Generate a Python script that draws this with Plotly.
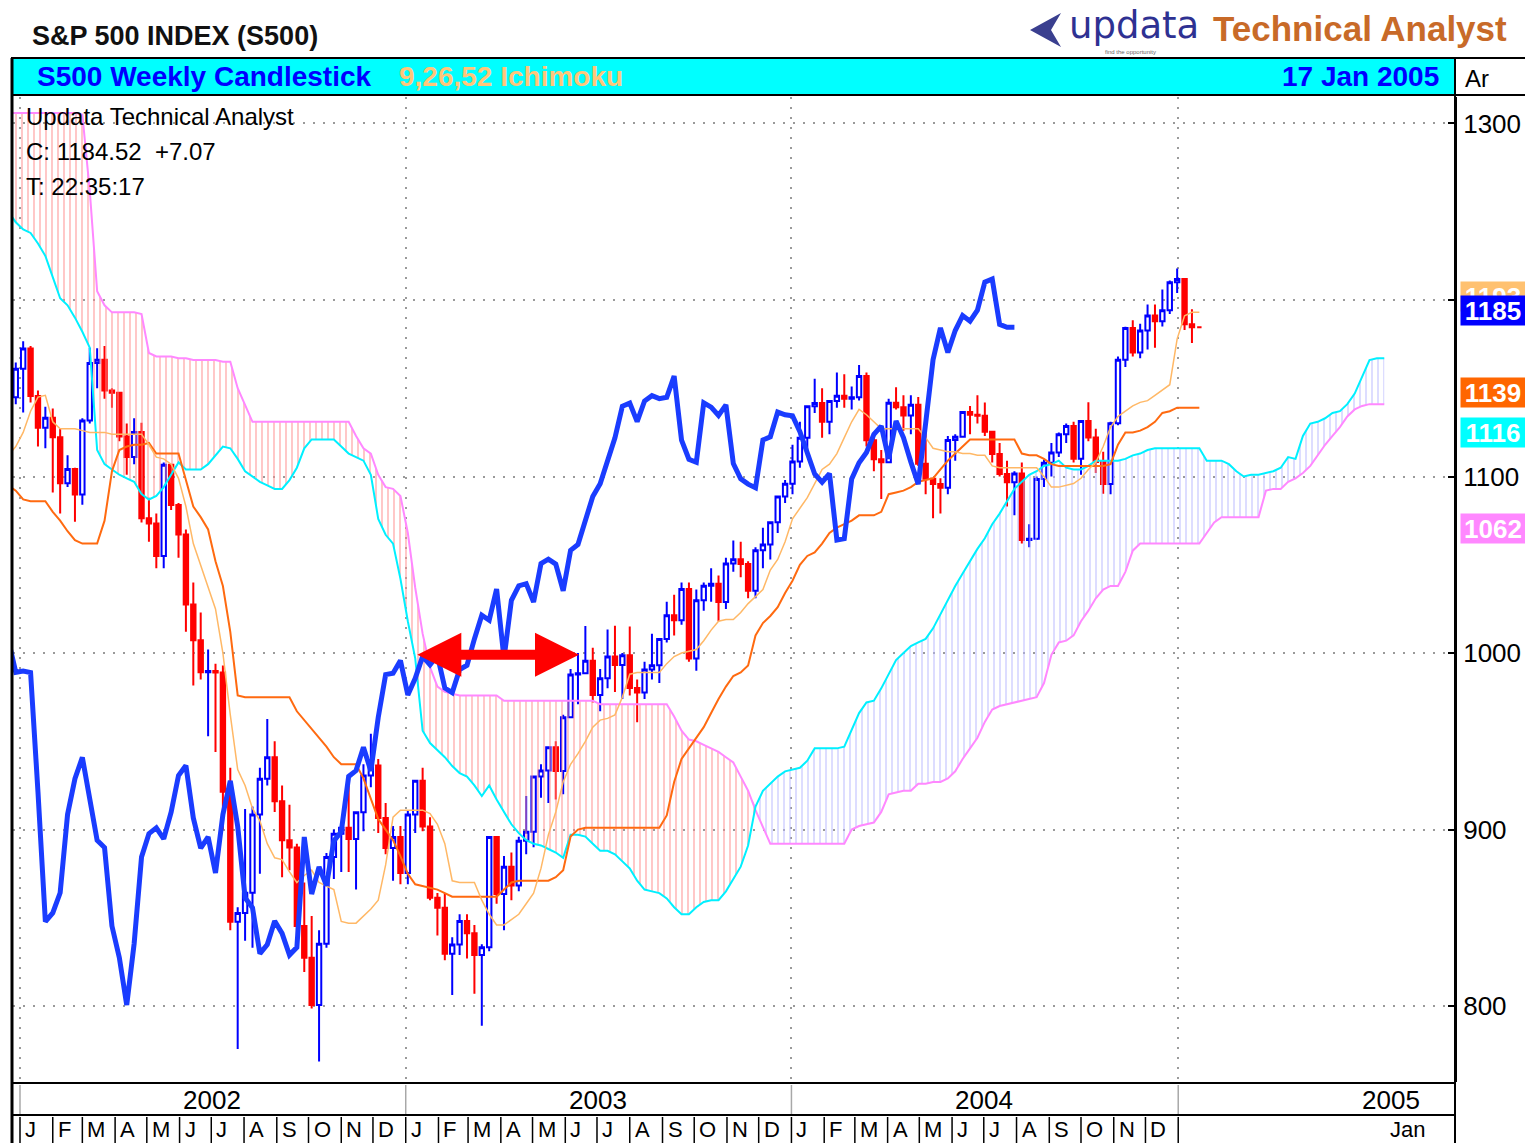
import numpy as np
import pandas as pd
import plotly.graph_objects as go

# ---------------- data ----------------
FIRST_WEEK = "2001-12-21"          # weekly grid (Fridays); candles start one week later
N_WEEKS_GRID = 187                  # grid incl. 25-week forward cloud
DISPLACEMENT_WEEKS = 25

OPEN = [1144.9, 1161.0, 1172.5, 1145.6, 1127.6, 1133.3, 1122.2, 1096.2, 1104.2, 1089.8,
        1131.8, 1164.3, 1166.2, 1148.7, 1147.4, 1122.7, 1111.0, 1125.2, 1076.3, 1073.4,
        1055.0, 1106.6, 1083.8, 1067.1, 1027.5, 1007.3, 989.1, 989.8, 989.0, 921.4,
        847.8, 852.8, 864.2, 908.6, 928.8, 940.9, 916.1, 893.9, 889.8, 845.4,
        827.4, 800.6, 835.3, 884.4, 897.7, 901.0, 894.7, 909.8, 930.6, 936.3,
        906.6, 889.5, 895.8, 875.4, 908.6, 927.6, 901.8, 861.4, 855.7, 829.7,
        834.9, 848.2, 841.2, 828.9, 833.3, 895.8, 863.5, 878.9, 868.3, 893.6,
        898.8, 930.1, 933.4, 946.7, 933.2, 963.6, 987.8, 988.6, 995.7, 976.2,
        985.7, 998.1, 993.3, 998.7, 980.2, 977.6, 990.7, 993.1, 1008.0, 1021.4,
        1018.6, 1036.3, 996.9, 1029.9, 1038.1, 1039.3, 1028.9, 1050.7, 1053.2, 1050.4,
        1035.3, 1058.2, 1061.5, 1074.1, 1088.7, 1095.9, 1108.5, 1121.9, 1139.8, 1141.6,
        1131.1, 1142.8, 1145.8, 1144.1, 1144.9, 1156.9, 1120.6, 1109.8, 1108.1, 1141.8,
        1139.3, 1134.6, 1140.6, 1107.3, 1098.7, 1095.7, 1093.6, 1120.7, 1122.5, 1136.5,
        1135.0, 1134.4, 1125.4, 1112.8, 1101.4, 1096.8, 1101.7, 1064.0, 1064.8, 1098.6,
        1107.8, 1113.6, 1123.9, 1128.6, 1110.1, 1131.5, 1122.1, 1108.2, 1095.7, 1130.2,
        1166.2, 1184.2, 1170.3, 1182.7, 1191.2, 1188.0, 1194.2, 1210.1, 1211.9, 1186.2,
        1184.52]
HIGH = [1164.6, 1176.6, 1174.0, 1148.8, 1139.5, 1138.6, 1127.0, 1112.0, 1105.0, 1133.0,
        1173.0, 1172.7, 1173.9, 1150.0, 1147.8, 1130.0, 1133.0, 1130.5, 1088.0, 1079.0,
        1108.0, 1106.6, 1085.0, 1070.0, 1040.0, 1023.0, 1002.0, 994.0, 993.0, 935.0,
        856.0, 911.6, 913.0, 935.0, 962.7, 950.0, 925.0, 914.0, 892.0, 870.0,
        851.0, 843.0, 886.7, 900.0, 903.0, 925.0, 910.0, 937.0, 954.3, 940.0,
        915.0, 902.0, 902.0, 911.0, 928.0, 935.0, 907.0, 864.0, 864.0, 839.0,
        852.0, 852.0, 846.0, 835.0, 895.8, 895.8, 885.0, 887.0, 896.0, 919.0,
        930.1, 937.0, 947.0, 950.0, 965.0, 991.0, 1000.0, 1015.3, 1003.0, 991.0,
        1013.4, 1015.4, 1000.0, 1015.0, 985.0, 995.0, 1011.0, 1008.0, 1029.0, 1033.0,
        1040.0, 1040.0, 1036.0, 1040.0, 1048.0, 1044.0, 1054.0, 1063.7, 1063.0, 1052.0,
        1060.0, 1071.0, 1074.0, 1089.0, 1098.0, 1118.0, 1131.0, 1139.8, 1155.4, 1150.0,
        1142.8, 1158.9, 1158.0, 1151.0, 1163.2, 1159.0, 1125.0, 1115.0, 1144.0, 1150.6,
        1146.0, 1146.0, 1145.0, 1127.0, 1099.0, 1099.0, 1123.0, 1124.0, 1137.0, 1140.0,
        1146.0, 1142.0, 1125.4, 1119.0, 1109.0, 1103.0, 1108.0, 1073.0, 1100.0, 1109.7,
        1119.0, 1125.0, 1130.0, 1131.0, 1131.6, 1142.1, 1127.0, 1114.0, 1131.0, 1168.0,
        1184.8, 1188.5, 1186.6, 1197.5, 1197.5, 1206.0, 1211.0, 1217.9, 1211.9, 1194.8,
        1184.52]
LOW = [1141.0, 1136.2, 1142.0, 1117.0, 1116.0, 1091.0, 1079.0, 1094.0, 1074.4, 1084.0,
       1130.0, 1150.0, 1144.0, 1139.0, 1120.0, 1101.0, 1107.0, 1073.9, 1063.0, 1048.0,
       1048.0, 1081.0, 1054.0, 1012.0, 981.6, 985.0, 952.9, 944.0, 900.0, 843.0,
       775.7, 837.0, 833.0, 875.0, 925.0, 910.0, 873.0, 877.0, 840.0, 819.3,
       798.6, 768.6, 833.0, 872.0, 876.0, 876.0, 866.0, 899.0, 924.0, 898.0,
       886.0, 871.0, 869.0, 869.0, 898.0, 899.0, 860.0, 840.0, 826.0, 806.3,
       829.0, 827.0, 807.0, 788.9, 831.0, 858.0, 843.0, 860.0, 865.0, 886.0,
       890.0, 918.0, 915.0, 917.0, 920.0, 963.0, 971.0, 988.0, 972.0, 967.0,
       980.0, 978.0, 974.0, 976.0, 960.8, 974.0, 985.0, 983.0, 1006.0, 1010.0,
       1016.0, 995.0, 990.0, 1024.0, 1029.0, 1018.0, 1025.0, 1046.0, 1043.0, 1031.0,
       1031.0, 1048.0, 1053.0, 1068.0, 1085.0, 1090.0, 1105.0, 1115.0, 1136.0, 1122.0,
       1124.0, 1139.0, 1139.0, 1138.0, 1143.0, 1117.0, 1103.0, 1087.2, 1108.0, 1138.0,
       1126.0, 1124.0, 1106.0, 1090.0, 1076.3, 1079.0, 1090.0, 1109.0, 1122.0, 1124.0,
       1130.0, 1123.0, 1108.0, 1100.0, 1083.0, 1078.0, 1062.0, 1060.0, 1064.0, 1094.0,
       1100.0, 1111.0, 1119.0, 1108.0, 1101.0, 1120.0, 1102.0, 1090.2, 1090.0, 1129.0,
       1162.0, 1168.0, 1167.0, 1172.0, 1173.0, 1185.0, 1192.0, 1204.0, 1183.0, 1175.6,
       1184.52]
CLOSE = [1161.0, 1172.5, 1145.6, 1127.6, 1133.3, 1122.2, 1096.2, 1104.2, 1089.8, 1131.8,
         1164.3, 1166.2, 1148.7, 1147.4, 1122.7, 1111.0, 1125.2, 1076.3, 1073.4, 1055.0,
         1106.6, 1083.8, 1067.1, 1027.5, 1007.3, 989.1, 989.8, 989.0, 921.4, 847.8,
         852.8, 864.2, 908.6, 928.8, 940.9, 916.1, 893.9, 889.8, 845.4, 827.4,
         800.6, 835.3, 884.4, 897.7, 901.0, 894.7, 909.8, 930.6, 936.3, 906.6,
         889.5, 895.8, 875.4, 908.6, 927.6, 901.8, 861.4, 855.7, 829.7, 834.9,
         848.2, 841.2, 828.9, 833.3, 895.8, 863.5, 878.9, 868.3, 893.6, 898.8,
         930.1, 933.4, 946.7, 933.2, 963.6, 987.8, 988.6, 995.7, 976.2, 985.7,
         998.1, 993.3, 998.7, 980.2, 977.6, 990.7, 993.1, 1008.0, 1021.4, 1018.6,
         1036.3, 996.9, 1029.9, 1038.1, 1039.3, 1028.9, 1050.7, 1053.2, 1050.4, 1035.3,
         1058.2, 1061.5, 1074.1, 1088.7, 1095.9, 1108.5, 1121.9, 1139.8, 1141.6, 1131.1,
         1142.8, 1145.8, 1144.1, 1144.9, 1156.9, 1120.6, 1109.8, 1108.1, 1141.8, 1139.3,
         1134.6, 1140.6, 1107.3, 1098.7, 1095.7, 1093.6, 1120.7, 1122.5, 1136.5, 1135.0,
         1134.4, 1125.4, 1112.8, 1101.4, 1096.8, 1101.7, 1064.0, 1064.8, 1098.6, 1107.8,
         1113.6, 1123.9, 1128.6, 1110.1, 1131.5, 1122.1, 1108.2, 1095.7, 1130.2, 1166.2,
         1184.2, 1170.3, 1182.7, 1191.2, 1188.0, 1194.2, 1210.1, 1211.9, 1186.2, 1184.52,
         1184.52]

# Tenkan (9) and Kijun (26) lines, one value per grid week from FIRST_WEEK (162 values)
TENKAN = [1112, 1117, 1125, 1137, 1145, 1146, 1131, 1127, 1127, 1127,
          1126, 1125, 1125, 1125, 1124, 1124, 1124, 1124, 1124, 1118,
          1111, 1110, 1107, 1099, 1083, 1062, 1050, 1038, 1025, 1000,
          965, 934, 925, 912, 905, 892, 884, 883, 876, 870,
          874, 877, 870, 868, 866, 848, 847, 847, 851, 855,
          860, 880, 907, 911, 911, 911, 911, 909, 903, 892,
          871, 870, 870, 870, 860, 852, 846, 846, 849, 852,
          858, 864, 878, 897, 910, 927, 937, 943, 950, 958,
          962, 963, 965, 975, 988, 989, 989, 989, 989, 994,
          998, 1000, 1001, 1002, 1007, 1013, 1018, 1019, 1019, 1023,
          1028, 1032, 1036, 1047, 1053, 1063, 1076, 1082, 1088, 1096,
          1104, 1107, 1113, 1122, 1131, 1138, 1135, 1131, 1127, 1127,
          1127, 1127, 1127, 1127, 1122, 1116, 1115, 1114, 1114, 1113,
          1113, 1112, 1112, 1106, 1105, 1105, 1105, 1105, 1105, 1105,
          1100, 1094, 1094, 1095, 1096, 1099, 1104, 1108, 1117, 1128,
          1134, 1137, 1140, 1142, 1143, 1146, 1149, 1152, 1178, 1191,
          1193, 1193]
KIJUN = [1095, 1092, 1087, 1086, 1086, 1086, 1080, 1075, 1069, 1064,
         1062, 1062, 1062, 1075, 1103, 1115, 1117, 1118, 1118, 1119,
         1113, 1113, 1113, 1113, 1098, 1083, 1077, 1070, 1052, 1038,
         1012, 976, 975, 975, 975, 975, 975, 975, 975, 967,
         962, 957, 952, 947, 941, 937, 937, 937, 929, 918,
         906, 900, 894, 885, 875, 869, 868, 867, 866, 864,
         862, 862, 862, 862, 862, 862, 862, 866, 870, 871,
         871, 871, 871, 871, 873, 877, 896, 900, 901, 901,
         901, 901, 901, 901, 901, 901, 901, 901, 901, 908,
         927, 940, 946, 952, 958, 966, 974, 981, 987, 989,
         993, 1010, 1017, 1021, 1026, 1034, 1041, 1050, 1055, 1057,
         1062, 1068, 1071, 1073, 1075, 1078, 1078, 1078, 1080, 1090,
         1091, 1092, 1094, 1097, 1098, 1099, 1104, 1109, 1113, 1117,
         1121, 1121, 1121, 1121, 1121, 1121, 1121, 1113, 1112, 1112,
         1110, 1107, 1106, 1106, 1106, 1106, 1106, 1106, 1106, 1107,
         1118, 1125, 1125, 1126, 1128, 1131, 1136, 1137, 1139, 1139,
         1139, 1139]

# Senkou spans as plotted (already displaced forward), 187 grid weeks
SPAN_A = [1250, 1244, 1240, 1238, 1232, 1225, 1213, 1201, 1197, 1190,
          1182, 1173, 1115, 1107, 1104, 1101, 1099, 1097, 1090, 1087,
          1089, 1094, 1101, 1108, 1104, 1104, 1104, 1107, 1112, 1117,
          1116, 1110, 1103, 1100, 1097, 1095, 1093, 1093, 1098, 1105,
          1116, 1121, 1121, 1121, 1121, 1117, 1113, 1111, 1109, 1101,
          1076, 1067, 1062, 1042, 1018, 997, 956, 949, 945, 941,
          936, 932, 930, 925, 919, 925, 917, 910, 903, 898,
          894, 892, 891, 889, 887, 884, 897, 897, 896, 892,
          888, 888, 886, 882, 878, 871, 866, 865, 864, 861,
          856, 852, 852, 856, 859, 860, 860, 865, 872, 879,
          891, 913, 922, 926, 930, 933, 934, 935, 939, 946,
          946, 946, 946, 947, 957, 966, 972, 973, 980, 988,
          996, 1000, 1004, 1006, 1008, 1014, 1022, 1030, 1038, 1045,
          1052, 1059, 1065, 1073, 1079, 1086, 1093, 1097, 1101, 1103,
          1106, 1107, 1109, 1105, 1104, 1104, 1106, 1109, 1109, 1109,
          1109, 1110, 1112, 1113, 1115, 1116, 1116, 1116, 1116, 1116,
          1116, 1116, 1109, 1109, 1109, 1107, 1103, 1100, 1101, 1101,
          1102, 1103, 1105, 1111, 1110, 1123, 1130, 1131, 1133, 1136,
          1137, 1141, 1147, 1157, 1166, 1167, 1167]
SPAN_B = [1306, 1306, 1306, 1306, 1306, 1306, 1306, 1306, 1306, 1306,
          1305, 1262, 1205, 1197, 1193, 1193, 1193, 1193, 1192, 1170,
          1168, 1168, 1168, 1167, 1167, 1166, 1166, 1166, 1166, 1165,
          1165, 1150, 1140, 1131, 1131, 1131, 1131, 1131, 1131, 1131,
          1131, 1131, 1131, 1131, 1131, 1131, 1131, 1123, 1116, 1113,
          1101, 1094, 1093, 1089, 1068, 1037, 1011, 992, 981, 978,
          977, 976, 976, 976, 976, 976, 976, 973, 973, 973,
          973, 973, 973, 973, 973, 973, 973, 973, 973, 973,
          971, 971, 971, 971, 971, 971, 971, 971, 971, 971,
          964, 956, 951, 950, 948, 946, 944, 941, 938, 930,
          922, 911, 901, 892, 892, 892, 892, 892, 892, 892,
          892, 892, 892, 892, 900, 902, 903, 904, 910, 920,
          921, 922, 922, 926, 926, 927, 927, 929, 933, 940,
          946, 952, 961, 968, 970, 971, 972, 973, 974, 975,
          983, 999, 1006, 1007, 1010, 1018, 1024, 1031, 1036, 1038,
          1038, 1046, 1058, 1062, 1062, 1062, 1062, 1062, 1062, 1062,
          1062, 1062, 1068, 1074, 1077, 1077, 1077, 1077, 1077, 1077,
          1092, 1093, 1093, 1097, 1099, 1102, 1106, 1112, 1118, 1123,
          1128, 1134, 1138, 1140, 1141, 1141, 1141]

YEAR_LABELS = ["2002", "2003", "2004", "2005"]
MONTH_LETTERS = ["J", "F", "M", "A", "M", "J", "J", "A", "S", "O", "N", "D"]
Y_TICKS = [800, 900, 1000, 1100, 1200, 1300]
Y_TICK_TEXT = ["800", "900", "1000", "1100", "", "1300"]   # 1200 is hidden under the value badges

# ---------------- derived positions ----------------
grid = pd.date_range(FIRST_WEEK, periods=N_WEEKS_GRID, freq="7D")
n_c = len(CLOSE)
candle_dates = grid[1:1 + n_c]
line_dates = grid[:len(TENKAN)]
cloud_dates = grid[:len(SPAN_A)]
chikou_dates = candle_dates[24:] - pd.Timedelta(weeks=DISPLACEMENT_WEEKS)
chikou_vals = CLOSE[24:]
span_a = np.array(SPAN_A, dtype=float)
span_b = np.array(SPAN_B, dtype=float)
cloud_top = np.maximum(span_a, span_b)

FONT = "Liberation Sans, Arial, Helvetica, sans-serif"
W, H = 1525, 1143
L, R, T, B = 13, 1455, 97, 1082


def PX(x):
    return (x - L) / (R - L)


def PY(y):
    return (B - y) / (B - T)


fig = go.Figure()

# cloud hatching (bearish: span B above span A; bullish: span A above span B)
fig.add_trace(go.Scatter(x=cloud_dates, y=span_a, mode="lines", line=dict(width=0),
                         hoverinfo="skip", showlegend=False))
fig.add_trace(go.Scatter(x=cloud_dates, y=cloud_top, mode="lines", line=dict(width=0),
                         fill="tonexty", fillcolor="rgba(0,0,0,0)",
                         fillpattern=dict(shape="|", fgcolor="#FF8C8C", bgcolor="rgba(0,0,0,0)",
                                          size=6, solidity=0.32),
                         hoverinfo="skip", showlegend=False))
fig.add_trace(go.Scatter(x=cloud_dates, y=span_b, mode="lines", line=dict(width=0),
                         hoverinfo="skip", showlegend=False))
fig.add_trace(go.Scatter(x=cloud_dates, y=cloud_top, mode="lines", line=dict(width=0),
                         fill="tonexty", fillcolor="rgba(0,0,0,0)",
                         fillpattern=dict(shape="|", fgcolor="#B8B8FF", bgcolor="rgba(0,0,0,0)",
                                          size=6, solidity=0.32),
                         hoverinfo="skip", showlegend=False))
# span lines
fig.add_trace(go.Scatter(x=cloud_dates, y=span_b, mode="lines",
                         line=dict(color="#FF88FF", width=2), showlegend=False))
fig.add_trace(go.Scatter(x=cloud_dates, y=span_a, mode="lines",
                         line=dict(color="#00F0FF", width=2), showlegend=False))
# kijun / tenkan
fig.add_trace(go.Scatter(x=line_dates, y=KIJUN, mode="lines",
                         line=dict(color="#FF6A10", width=2), showlegend=False))
fig.add_trace(go.Scatter(x=line_dates, y=TENKAN, mode="lines",
                         line=dict(color="#FFB866", width=1.5), showlegend=False))
# chikou
fig.add_trace(go.Scatter(x=chikou_dates, y=chikou_vals, mode="lines",
                         line=dict(color="#1A3CFF", width=5), showlegend=False))
# candles
fig.add_trace(go.Candlestick(x=candle_dates, open=OPEN, high=HIGH, low=LOW, close=CLOSE,
                             increasing=dict(line=dict(color="#0000FF", width=2), fillcolor="white"),
                             decreasing=dict(line=dict(color="#FF0000", width=2), fillcolor="#FF0000"),
                             whiskerwidth=0, showlegend=False))

shapes = []
# header bar
shapes.append(dict(type="rect", xref="paper", yref="paper", x0=PX(12), x1=PX(1455),
                   y0=PY(95), y1=PY(58), fillcolor="#00FFFF", line=dict(color="black", width=2)))
shapes.append(dict(type="rect", xref="paper", yref="paper", x0=PX(1455), x1=PX(1530),
                   y0=PY(95), y1=PY(58), fillcolor="white", line=dict(color="black", width=2)))
# frame lines
shapes.append(dict(type="line", xref="paper", yref="paper", x0=PX(12), x1=PX(12),
                   y0=PY(58), y1=PY(1146), line=dict(color="black", width=3)))
shapes.append(dict(type="line", xref="paper", yref="paper", x0=PX(1455), x1=PX(1455),
                   y0=PY(58), y1=PY(1146), line=dict(color="black", width=2)))
for yy in (1083, 1115):
    shapes.append(dict(type="line", xref="paper", yref="paper", x0=PX(12), x1=PX(1455),
                       y0=PY(yy), y1=PY(yy), line=dict(color="black", width=2)))
# year separators and month separators
years = [2002, 2003, 2004, 2005]
for yr in years:
    shapes.append(dict(type="line", xref="x", yref="paper", x0=f"{yr}-01-01", x1=f"{yr}-01-01",
                       y0=PY(1085), y1=PY(1114), line=dict(color="#A8A8A8", width=1.5)))
for yr in years[:3]:
    for m in range(1, 13):
        d = f"{yr}-{m:02d}-01"
        shapes.append(dict(type="line", xref="x", yref="paper", x0=d, x1=d,
                           y0=PY(1117), y1=PY(1146), line=dict(color="black", width=1.5)))
shapes.append(dict(type="line", xref="x", yref="paper", x0="2005-01-01", x1="2005-01-01",
                   y0=PY(1117), y1=PY(1146), line=dict(color="black", width=1.5)))

# red double-headed arrow (chikou vs price)
ARROW_Y = 999
shapes.append(dict(type="line", xref="x", yref="y", x0="2003-01-26", x1="2003-06-01",
                   y0=ARROW_Y, y1=ARROW_Y, line=dict(color="#FF0000", width=10)))
shapes.append(dict(type="path", xref="x", yref="y", xsizemode="pixel", ysizemode="pixel",
                   xanchor="2003-01-12", yanchor=ARROW_Y, path="M0,0 L44,22 L44,-22 Z",
                   fillcolor="#FF0000", line=dict(width=0)))
shapes.append(dict(type="path", xref="x", yref="y", xsizemode="pixel", ysizemode="pixel",
                   xanchor="2003-06-14", yanchor=ARROW_Y, path="M0,0 L-44,22 L-44,-22 Z",
                   fillcolor="#FF0000", line=dict(width=0)))

# logo arrow glyph
lx = [1030, 1061, 1051, 1061]
ly = [30, 13, 30, 47]
path = "M{},{} L{},{} L{},{} L{},{} Z".format(PX(lx[0]), PY(ly[0]), PX(lx[1]), PY(ly[1]),
                                              PX(lx[2]), PY(ly[2]), PX(lx[3]), PY(ly[3]))
shapes.append(dict(type="path", xref="paper", yref="paper", path=path,
                   fillcolor="#3A3F8F", line=dict(width=0)))

ann = []


def text(x, y, s, size, color="black", bold=False, anchor="left", family=FONT):
    ann.append(dict(xref="paper", yref="paper", x=PX(x), y=PY(y), text=(f"<b>{s}</b>" if bold else s),
                    showarrow=False, xanchor=anchor, yanchor="middle",
                    font=dict(family=family, size=size, color=color)))


text(30, 36, "S&P 500 INDEX (S500)", 27, "#111111", bold=True)
text(1067, 26, "updata", 37, "#2E3192", family="DejaVu Sans, sans-serif")
text(1103, 52, "find the opportunity", 6, "#666666")
text(1211, 29, "Technical Analyst", 35, "#C86A28", bold=True)
text(35, 76, "S500 Weekly Candlestick", 28, "#0000FF", bold=True)
text(397, 76, "9,26,52 Ichimoku", 28, "#FFC67A", bold=True)
text(1441, 76, "17 Jan 2005", 28, "#0000FF", bold=True, anchor="right")
text(1463, 78, "Ar", 24, "black")
text(24, 117, "Updata Technical Analyst", 24)
text(24, 151, "C: 1184.52\u00a0\u00a0+7.07", 24)
text(24, 186, "T: 22:35:17", 24)

# year labels
year_centres = ["2002-07-02", "2003-07-02", "2004-07-01", "2005-07-21"]
for lab, c in zip(YEAR_LABELS, year_centres):
    ann.append(dict(xref="x", yref="paper", x=c, y=PY(1100), text=lab, showarrow=False,
                    xanchor="center", yanchor="middle", font=dict(family=FONT, size=26, color="black")))
# month letters
for yr in years[:3]:
    for m, letter in enumerate(MONTH_LETTERS, start=1):
        ann.append(dict(xref="x", yref="paper", x=f"{yr}-{m:02d}-01", y=PY(1129), text=letter,
                        showarrow=False, xanchor="left", yanchor="middle", xshift=3,
                        font=dict(family=FONT, size=22, color="black")))
ann.append(dict(xref="x", yref="paper", x="2005-08-06", y=PY(1129), text="Jan", showarrow=False,
                xanchor="center", yanchor="middle", font=dict(family=FONT, size=22, color="black")))

# value badges on the right axis (last values)
badges = [(TENKAN[-1], "#FFC170"), (round(CLOSE[-1]), "#0000FF"), (KIJUN[-1], "#FF6600"),
          (SPAN_A[len(TENKAN) - 1], "#00FFFF"), (SPAN_B[len(TENKAN) - 1], "#FF88FF")]
for val, col in badges:
    ann.append(dict(xref="paper", yref="y", x=1.0, y=val, xanchor="left", yanchor="bottom",
                    xshift=5, text=f"<b>{int(val)}</b>", showarrow=False, bgcolor=col,
                    width=64, height=29, borderpad=0, align="center", valign="middle",
                    font=dict(family=FONT, size=26, color="white")))

fig.update_layout(
    width=W, height=H, autosize=False,
    margin=dict(l=L, r=W - R, t=T, b=H - B, pad=0, autoexpand=False),
    paper_bgcolor="white", plot_bgcolor="white",
    showlegend=False, hovermode=False,
    shapes=shapes, annotations=ann, boxgap=0.15,
    xaxis=dict(type="date", range=["2001-12-25 09:00", "2005-09-19 22:00"],
               rangeslider=dict(visible=False),
               tickvals=[f"{y}-01-01" for y in years], showticklabels=False, ticks="",
               showgrid=True, gridcolor="#9A9A9A", gridwidth=1.5, griddash="2px,8px",
               zeroline=False, showline=False),
    yaxis=dict(side="right", range=[757, 1315], tickvals=Y_TICKS,
               ticktext=Y_TICK_TEXT,
               ticks="inside", ticklen=7, tickwidth=2, tickcolor="black",
               ticklabelstandoff=1,
               showline=True, linecolor="black", linewidth=2,
               showgrid=True, gridcolor="#9A9A9A", gridwidth=1.5, griddash="2px,8px",
               zeroline=False, tickfont=dict(family=FONT, size=26, color="black")),
)

fig.write_html("out.html", config={"displayModeBar": False},
               post_script="document.body.style.margin='0px';document.body.style.overflow='hidden';")
